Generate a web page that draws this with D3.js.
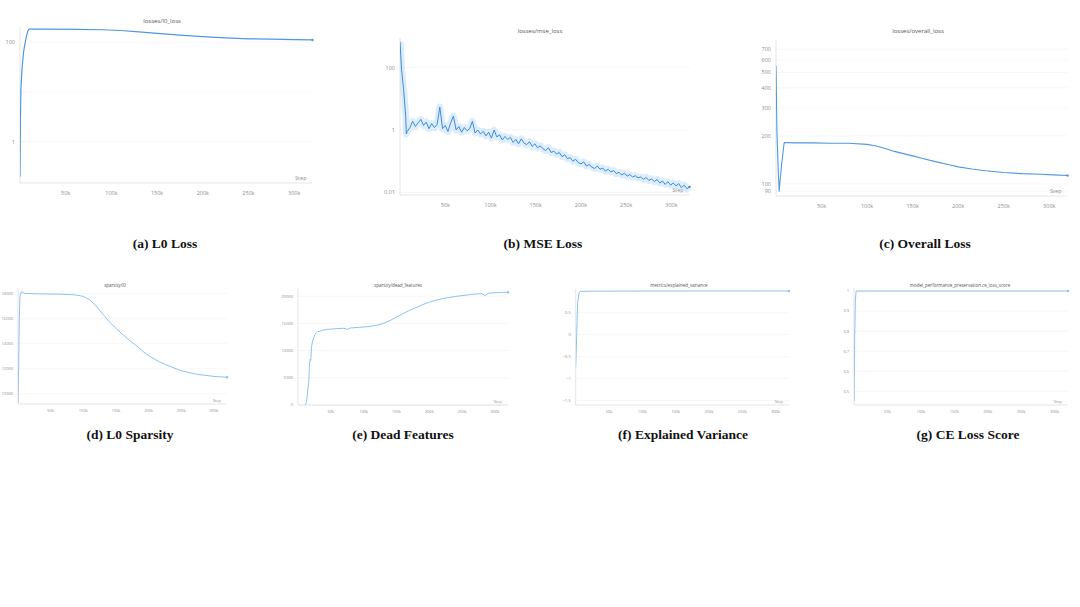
<!DOCTYPE html>
<html lang="en">
<head>
<meta charset="utf-8">
<title>SAE training curves</title>
<script src="https://d3js.org/d3.v7.min.js"></script>
<style>
  body { margin: 0; background: #fff; }
  svg { display: block; }
  .tick-label { font-family: "Open Sans", sans-serif; fill: #8c8c8c; }
  .panel-title { font-family: "Open Sans", sans-serif; fill: #555; }
  .caption { font-family: "Liberation Serif", "Times New Roman", serif; font-weight: bold; font-size: 13.5px; fill: #111; }
  .grid { stroke: #f0f0f0; stroke-width: 0.6; }
  .axis-line { stroke: #dedede; stroke-width: 0.8; }
</style>
</head>
<body>
<svg id="chart" width="1080" height="607"></svg>
<script>
// training step ticks shared by all panels
const stepTicks = [50000, 100000, 150000, 200000, 250000, 300000];

// (a) losses/l0_loss
const l0LossSteps = [0, 500, 1000, 2000, 3000, 4000, 5500, 7000, 8500, 10000, 30000, 60000, 90000, 110000, 130000, 150000, 175000, 200000, 225000, 250000, 275000, 300000, 320000];
const l0LossValues = [0.2, 3, 11, 25, 43, 65, 94, 130, 165, 182, 182, 180, 176, 170, 160, 149, 137, 128, 121, 116, 114, 112, 110];

// (b) losses/mse_loss - early drop then noisy decay (3k step logging, 8k..320k)
const mseSteps = [0, 1800, 4000, 6300, 7000].concat(d3.range(8000, 320001, 3000));
const mseValues = [
  680, 83, 20, 2.7, 0.75,
  0.9, 1.2, 1.9, 1.3, 1.7, 2.2, 1.4, 1.8, 1.1, 1.6,
  1.2, 1.5, 5.5, 1.1, 1.4, 0.9, 1.7, 2.8, 1.0, 1.3,
  0.85, 1.2, 0.95, 1.1, 1.9, 0.8, 1.0, 0.75, 0.9, 0.65,
  0.85, 0.55, 1.0, 0.6, 0.7, 0.48, 0.62, 0.5, 0.58, 0.4,
  0.5, 0.36, 0.52, 0.38, 0.34, 0.42, 0.3, 0.36, 0.27, 0.31,
  0.25, 0.22, 0.27, 0.19, 0.21, 0.17, 0.19, 0.14, 0.16, 0.12,
  0.13, 0.1, 0.115, 0.09, 0.082, 0.095, 0.07, 0.078, 0.065, 0.058,
  0.07, 0.055, 0.06, 0.048, 0.055, 0.045, 0.05, 0.04, 0.044, 0.036,
  0.041, 0.033, 0.037, 0.031, 0.034, 0.029, 0.031, 0.026, 0.03, 0.024,
  0.027, 0.022, 0.026, 0.02, 0.023, 0.018, 0.022, 0.017, 0.02, 0.016,
  0.019, 0.014, 0.017, 0.013, 0.015
];

// (c) losses/overall_loss
const overallSteps = [0, 1000, 2500, 3500, 4500, 6000, 9000, 20000, 40000, 60000, 80000, 100000, 110000, 120000, 130000, 140000, 150000, 160000, 175000, 190000, 200000, 215000, 230000, 250000, 270000, 290000, 305000, 320000];
const overallValues = [550, 215, 120, 90, 105, 130, 182, 181, 181, 180, 180, 177, 173, 167, 160, 155, 150, 145, 138, 132, 128, 124, 121, 118, 116, 115, 114, 113];

// (d) sparsity/l0
const sparsitySteps = [0, 1000, 2000, 3000, 5000, 7000, 10000, 30000, 60000, 80000, 90000, 100000, 110000, 120000, 130000, 140000, 150000, 160000, 170000, 180000, 190000, 200000, 215000, 230000, 250000, 275000, 300000, 320000];
const sparsityValues = [9300, 12000, 16000, 17800, 18150, 18120, 18020, 17990, 17960, 17930, 17880, 17780, 17500, 17000, 16350, 15750, 15240, 14750, 14300, 13900, 13450, 13050, 12600, 12250, 11850, 11560, 11400, 11330];

// (e) sparsity/dead_features
const deadSteps = [11000, 13000, 15000, 16500, 17500, 18500, 19500, 20500, 22000, 24000, 26000, 28000, 30000, 33000, 36000, 40000, 45000, 50000, 55000, 60000, 70000, 75000, 80000, 90000, 100000, 110000, 120000, 130000, 140000, 150000, 160000, 170000, 180000, 190000, 200000, 210000, 220000, 230000, 240000, 250000, 260000, 270000, 280000, 285000, 290000, 300000, 310000, 320000];
const deadValues = [0, 500, 3000, 4200, 7500, 8400, 8200, 10600, 11600, 12400, 13000, 13300, 13500, 13500, 13700, 13800, 13900, 13950, 14000, 14050, 14100, 13900, 14150, 14250, 14330, 14450, 14650, 15000, 15500, 16150, 16800, 17400, 17900, 18450, 18900, 19250, 19550, 19750, 19950, 20100, 20250, 20400, 20450, 20100, 20550, 20620, 20680, 20730];

// (f) metrics/explained_variance
const evSteps = [0, 1000, 2000, 3000, 5000, 7000, 20000, 100000, 320000];
const evValues = [-0.75, -0.3, 0.3, 0.75, 0.95, 0.985, 0.99, 0.993, 0.995];

// (g) model_performance_preservation.ce_loss_score
const ceSteps = [0, 1000, 2000, 3000, 4000, 320000];
const ceValues = [0.45, 0.75, 0.95, 0.995, 1.0, 1.0];

const topBlue = '#4f98df';
const lowBlue = '#8fc1ee';

/**
 */
const panels = [
  { title: 'losses/l0_loss', caption: '(a) L0 Loss', steps: l0LossSteps, values: l0LossValues,
    log: true, yDomain: [0.15, 200], yTicks: [100, 1], yGrid: [100, 10, 1],
    xRange: [20, 312.5], yRange: [183, 27], titleX: 162, titleY: 21, capX: 165, capY: 248,
    color: topBlue, width: 1.2, font: 5.5, titleFont: 6, row: 1 },
  { title: 'losses/mse_loss', caption: '(b) MSE Loss', steps: mseSteps, values: mseValues,
    log: true, yDomain: [0.0082, 900], yTicks: [100, 1, 0.01], yGrid: [100, 1, 0.01],
    xRange: [400, 689.6], yRange: [195, 38], titleX: 540, titleY: 31, capX: 543, capY: 248,
    color: '#3b8bdb', width: 1, font: 5.5, titleFont: 6, row: 1, halo: true },
  { title: 'losses/overall_loss', caption: '(c) Overall Loss', steps: overallSteps, values: overallValues,
    log: true, yDomain: [84, 800], yTicks: [700, 600, 500, 400, 300, 200, 100, 90], yGrid: [700, 600, 500, 400, 300, 200, 100, 90],
    xRange: [776, 1067.5], yRange: [196, 40], titleX: 918, titleY: 31, capX: 925, capY: 248,
    color: topBlue, width: 1.1, font: 5.5, titleFont: 6, row: 1 },
  { title: 'sparsity/l0', caption: '(d) L0 Sparsity', steps: sparsitySteps, values: sparsityValues,
    log: false, yDomain: [9200, 18450], yTicks: [10000, 12000, 14000, 16000, 18000],
    xRange: [18, 227], yRange: [404, 288], titleX: 115, titleY: 285, capX: 130, capY: 439,
    color: lowBlue, width: 1, font: 4, titleFont: 4.5, row: 2 },
  { title: 'sparsity/dead_features', caption: '(e) Dead Features', steps: deadSteps, values: deadValues,
    log: false, yDomain: [0, 21500], yTicks: [0, 5000, 10000, 15000, 20000],
    xRange: [298, 508], yRange: [405, 288], titleX: 398, titleY: 285, capX: 403, capY: 439,
    color: lowBlue, width: 1, font: 4, titleFont: 4.5, row: 2 },
  { title: 'metrics/explained_variance', caption: '(f) Explained Variance', steps: evSteps, values: evValues,
    log: false, yDomain: [-1.607, 1.04], yTicks: [-1.5, -1, -0.5, 0, 0.5],
    xRange: [575.7, 789], yRange: [405, 289], titleX: 679, titleY: 285, capX: 683, capY: 439,
    color: lowBlue, width: 1, font: 4, titleFont: 4.5, row: 2 },
  { title: 'model_performance_preservation.ce_loss_score', caption: '(g) CE Loss Score', steps: ceSteps, values: ceValues,
    log: false, yDomain: [0.4315, 1.015], yTicks: [0.5, 0.6, 0.7, 0.8, 0.9, 1],
    xRange: [854, 1068], yRange: [405, 288], titleX: 960, titleY: 285, capX: 968, capY: 439,
    color: lowBlue, width: 1, font: 4, titleFont: 4.5, row: 2 }
];

const svg = d3.select('#chart');

panels.forEach((p, i) => {
  const x = d3.scaleLinear().domain([0, 320000]).range(p.xRange);
  const y = (p.log ? d3.scaleLog() : d3.scaleLinear()).domain(p.yDomain).range(p.yRange);
  const g = svg.append('g');
  const [x0, x1] = p.xRange;
  const [yb, yt] = p.yRange;

  // grid lines
  const grid = p.yGrid || p.yTicks;
  g.selectAll('line.grid').data(grid).join('line')
    .attr('class', 'grid')
    .attr('x1', x0).attr('x2', x1)
    .attr('y1', d => y(d)).attr('y2', d => y(d));

  // axis lines
  g.append('line').attr('class', 'axis-line').attr('x1', x0).attr('x2', x0).attr('y1', yt).attr('y2', yb);
  g.append('line').attr('class', 'axis-line').attr('x1', x0).attr('x2', x1).attr('y1', yb).attr('y2', yb);

  // y tick labels
  const fmt = v => (Math.abs(v) < 1 && v !== 0 && p.log) ? String(v) : d3.format('~g')(v);
  g.selectAll('text.ylab').data(p.yTicks).join('text')
    .attr('class', 'tick-label')
    .attr('x', x0 - 5)
    .attr('y', d => y(d))
    .attr('dy', '0.35em')
    .attr('text-anchor', 'end')
    .style('font-size', p.font + 'px')
    .text(fmt);

  // x tick labels
  g.selectAll('text.xlab').data(stepTicks).join('text')
    .attr('class', 'tick-label')
    .attr('x', d => x(d))
    .attr('y', yb + (p.row === 1 ? 10 : 7))
    .attr('dy', '0.35em')
    .attr('text-anchor', 'middle')
    .style('font-size', p.font + 'px')
    .text(d => (d / 1000) + 'k');

  g.append('text')
    .attr('class', 'tick-label')
    .attr('x', x1 - 6)
    .attr('y', yb - (p.row === 1 ? 3 : 2))
    .attr('text-anchor', 'end')
    .style('font-size', p.font + 'px')
    .text('Step');

  // title
  g.append('text')
    .attr('class', 'panel-title')
    .attr('x', p.titleX).attr('y', p.titleY)
    .attr('dy', '0.35em')
    .attr('text-anchor', 'middle')
    .style('font-size', p.titleFont + 'px')
    .text(p.title);

  // curve
  const pts = p.steps.map((s, k) => [s, p.values[k]]);
  const line = d3.line().x(d => x(d[0])).y(d => y(d[1]));

  const clipId = 'clip' + i;
  svg.append('clipPath').attr('id', clipId)
    .append('rect').attr('x', x0).attr('y', yt - 2).attr('width', x1 - x0 + 2).attr('height', yb - yt + 2);

  const lines = g.append('g').attr('clip-path', `url(#${clipId})`);
  if (p.halo) {
    // light band around the noisy run
    lines.append('path').datum(pts)
      .attr('d', line).attr('fill', 'none')
      .attr('stroke', '#b6d8f6').attr('stroke-opacity', 0.45)
      .attr('stroke-width', 7).attr('stroke-linejoin', 'round');
  }
  lines.append('path').datum(pts)
    .attr('d', line).attr('fill', 'none')
    .attr('stroke', p.color).attr('stroke-width', p.width)
    .attr('stroke-linejoin', 'round');

  const last = pts[pts.length - 1];
  g.append('circle').attr('cx', x(last[0])).attr('cy', y(last[1])).attr('r', 1.2).attr('fill', p.color);

  // caption under the panel
  svg.append('text')
    .attr('class', 'caption')
    .attr('x', p.capX).attr('y', p.capY)
    .attr('text-anchor', 'middle')
    .text(p.caption);
});
</script>
</body>
</html>
